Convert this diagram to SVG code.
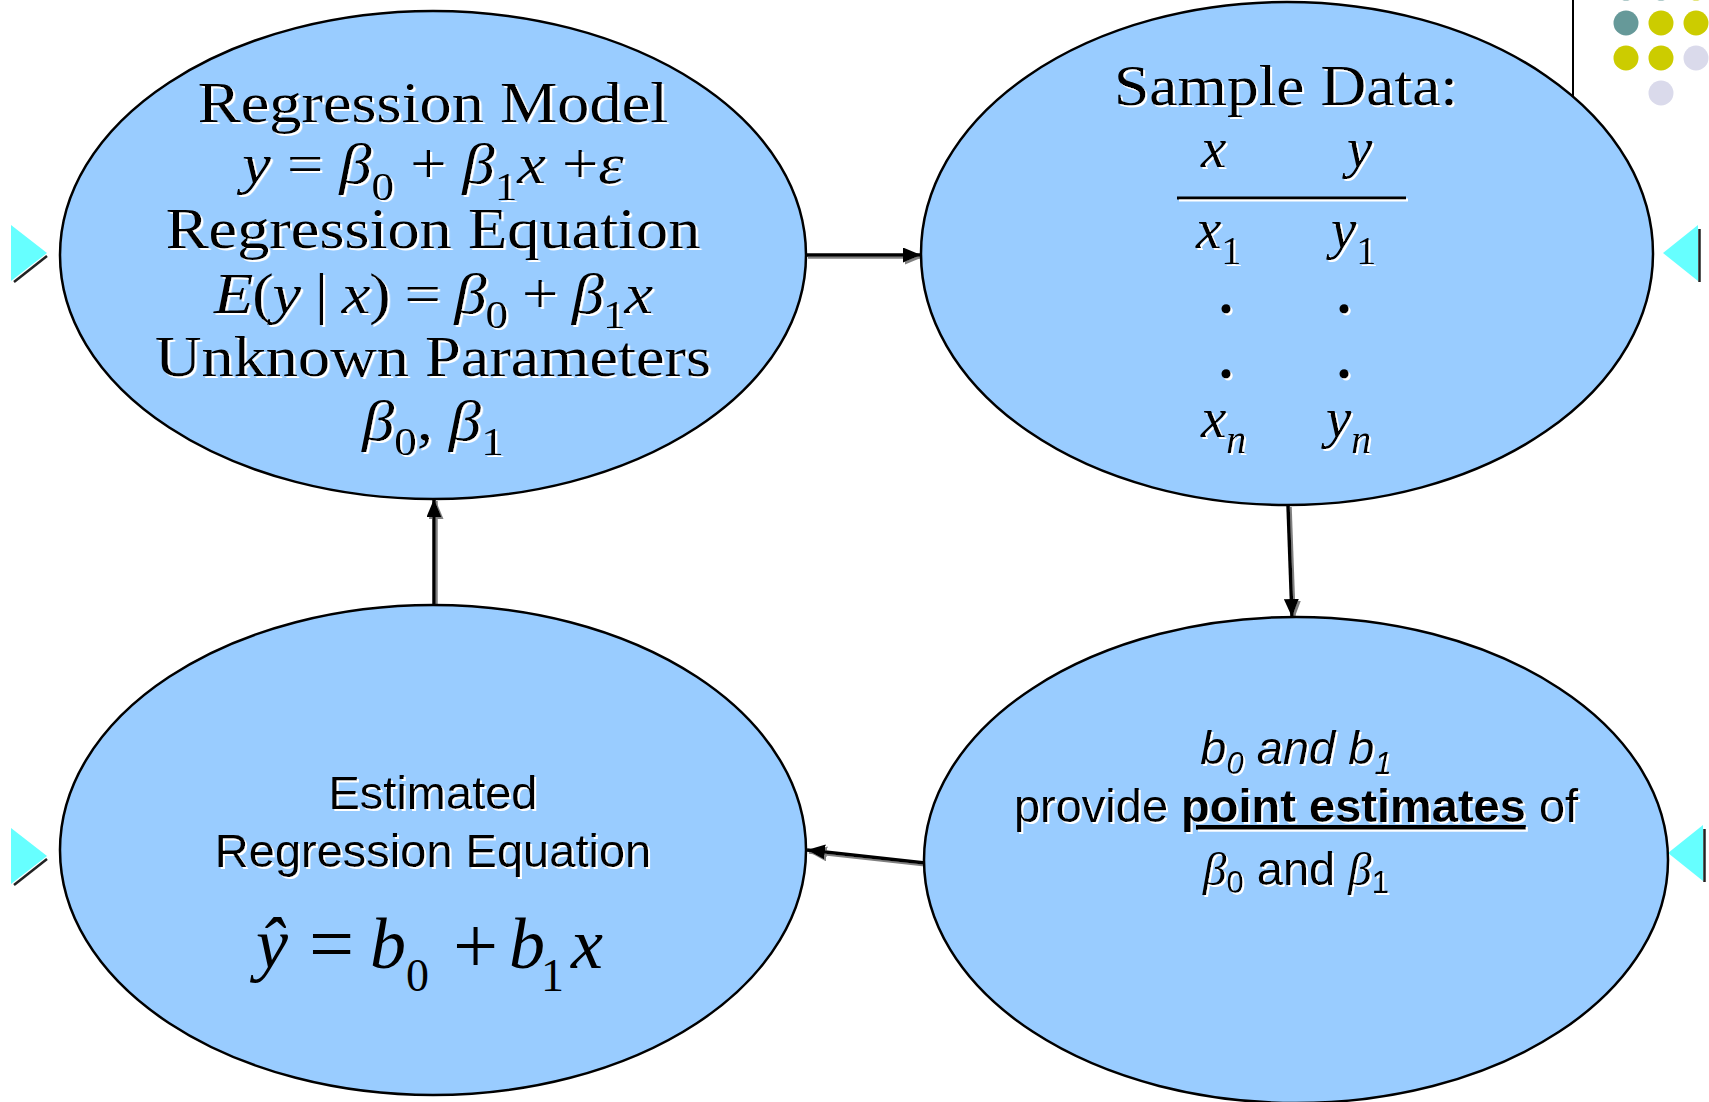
<svg xmlns="http://www.w3.org/2000/svg" width="1709" height="1102" viewBox="0 0 1709 1102">
<defs>
<style>
.node{fill:#99CCFF;stroke:#000;stroke-width:2.5}
.pal{font-family:"Liberation Serif",serif;font-size:57px;fill:#000}
.it{font-style:italic}
.sub{font-size:40px}
.ar{font-family:"Liberation Sans",Arial,sans-serif;font-size:47px;fill:#000}
.tm{font-family:"Liberation Serif",serif;fill:#000}
.conn{stroke:#000;stroke-width:3.5;fill:none;marker-end:url(#ah)}
.tri{fill:#66FFFF}
.triedge{stroke:#222;stroke-width:2.5}
</style>
<filter id="ws" x="-10%" y="-20%" width="130%" height="150%"><feDropShadow dx="2" dy="2" stdDeviation="0" flood-color="#fff" flood-opacity="1"/></filter>
<filter id="gs" x="-20%" y="-20%" width="140%" height="140%"><feDropShadow dx="2" dy="2" stdDeviation="0" flood-color="#808080" flood-opacity="1"/></filter>
<marker id="ah" markerUnits="userSpaceOnUse" markerWidth="19" markerHeight="15" refX="18" refY="7.5" orient="auto"><path d="M0,0 L18,7.5 L0,15 z" fill="#000"/></marker>
</defs>
<rect width="1709" height="1102" fill="#fff"/>

<g id="decor">
<line x1="1573" y1="0" x2="1573" y2="100" stroke="#000" stroke-width="2"/>
<circle cx="1626" cy="-12" r="12.5" fill="#669999"/>
<circle cx="1661" cy="-12" r="12.5" fill="#669999"/>
<circle cx="1696" cy="-12" r="12.5" fill="#CCCC00"/>
<circle cx="1626" cy="23" r="12.5" fill="#669999"/>
<circle cx="1661" cy="23" r="12.5" fill="#CCCC00"/>
<circle cx="1696" cy="23" r="12.5" fill="#CCCC00"/>
<circle cx="1626" cy="58" r="12.5" fill="#CCCC00"/>
<circle cx="1661" cy="58" r="12.5" fill="#CCCC00"/>
<circle cx="1696" cy="58" r="12.5" fill="#DADAEB"/>
<circle cx="1661" cy="93" r="12.5" fill="#DADAEB"/>
<polygon class="tri" points="11,225 47,253 11,281"/>
<line class="triedge" x1="14" y1="282" x2="47" y2="256"/>
<polygon class="tri" points="11,828 47,856 11,884"/>
<line class="triedge" x1="14" y1="885" x2="47" y2="859"/>
<polygon class="tri" points="1698,225 1663,253 1698,281"/>
<line class="triedge" x1="1699.5" y1="229" x2="1699.5" y2="282"/>
<polygon class="tri" points="1703,825 1668,853 1703,881"/>
<line class="triedge" x1="1704.5" y1="829" x2="1704.5" y2="882"/>
</g>

<g id="connectors" filter="url(#gs)">
<line class="conn" x1="806" y1="255" x2="921" y2="255"/>
<line class="conn" x1="1288" y1="505" x2="1292" y2="617"/>
<line class="conn" x1="925" y1="863" x2="807" y2="850"/>
<line class="conn" x1="434" y1="605" x2="434" y2="499"/>
</g>

<g id="node-model">
<ellipse class="node" cx="433" cy="255" rx="373" ry="244"/>
<g filter="url(#ws)" transform="translate(433,0) scale(1.13,1) translate(-433,0)">
<text class="pal" x="433" y="122" text-anchor="middle">Regression Model</text>
<text class="pal" x="433" y="183" text-anchor="middle"><tspan class="it">y</tspan> = <tspan class="it">β</tspan><tspan class="sub" dy="17">0</tspan><tspan dy="-17"> + </tspan><tspan class="it">β</tspan><tspan class="sub" dy="17">1</tspan><tspan class="it" dy="-17">x</tspan> +<tspan class="it">ε</tspan></text>
<text class="pal" x="433" y="248" text-anchor="middle">Regression Equation</text>
<text class="pal" x="433" y="313" text-anchor="middle" letter-spacing="-1"><tspan class="it">E</tspan>(<tspan class="it">y</tspan> | <tspan class="it">x</tspan>) = <tspan class="it">β</tspan><tspan class="sub" dy="15">0</tspan><tspan dy="-15"> + </tspan><tspan class="it">β</tspan><tspan class="sub" dy="15">1</tspan><tspan class="it" dy="-15">x</tspan></text>
<text class="pal" x="433" y="376" text-anchor="middle">Unknown Parameters</text>
<text class="pal" x="433" y="440" text-anchor="middle"><tspan class="it">β</tspan><tspan class="sub" dy="15">0</tspan><tspan dy="-15">, </tspan><tspan class="it">β</tspan><tspan class="sub" dy="15">1</tspan></text>
</g>
</g>

<g id="node-sample">
<ellipse class="node" cx="1287" cy="253.5" rx="366" ry="251.5"/>
<g filter="url(#ws)">
<text class="pal" x="1286" y="105" text-anchor="middle" textLength="344" lengthAdjust="spacingAndGlyphs">Sample Data:</text>
<text class="pal it" x="1201" y="167">x</text>
<text class="pal it" x="1347" y="167">y</text>
<line x1="1177" y1="198" x2="1406" y2="198" stroke="#000" stroke-width="3"/>
<text class="pal" x="1196" y="248"><tspan class="it">x</tspan><tspan class="sub" dy="16">1</tspan></text>
<text class="pal" x="1331" y="248"><tspan class="it">y</tspan><tspan class="sub" dy="16">1</tspan></text>
<text class="pal" x="1226" y="313" text-anchor="middle" font-weight="bold">.</text>
<text class="pal" x="1344" y="313" text-anchor="middle" font-weight="bold">.</text>
<text class="pal" x="1226" y="378" text-anchor="middle" font-weight="bold">.</text>
<text class="pal" x="1344" y="378" text-anchor="middle" font-weight="bold">.</text>
<text class="pal" x="1201" y="437"><tspan class="it">x</tspan><tspan class="sub it" dy="16">n</tspan></text>
<text class="pal" x="1326" y="437"><tspan class="it">y</tspan><tspan class="sub it" dy="16">n</tspan></text>
</g>
</g>

<g id="node-estimates">
<ellipse class="node" cx="1296" cy="860" rx="372" ry="243"/>
<g filter="url(#ws)">
<text class="ar" x="1296" y="764" text-anchor="middle" font-style="italic">b<tspan font-size="31" dy="10">0</tspan><tspan dy="-10"> and b</tspan><tspan font-size="31" dy="10">1</tspan></text>
<text class="ar" x="1296" y="822" text-anchor="middle">provide <tspan font-weight="bold" text-decoration="underline">point estimates</tspan> of</text>
<text class="ar" x="1296" y="885" text-anchor="middle"><tspan class="tm it">β</tspan><tspan font-size="31" dy="8">0</tspan><tspan dy="-8"> and </tspan><tspan class="tm it">β</tspan><tspan font-size="31" dy="8">1</tspan></text>
</g>
</g>

<g id="node-estimated">
<ellipse class="node" cx="433" cy="850" rx="373" ry="245"/>
<g filter="url(#ws)">
<text class="ar" x="433" y="809" text-anchor="middle">Estimated</text>
<text class="ar" x="433" y="867" text-anchor="middle">Regression Equation</text>
</g>
<g>
<text class="tm it" x="256" y="968" font-size="72">ŷ</text>
<text class="tm" x="309" y="971" font-size="80">=</text>
<text class="tm it" x="370" y="968" font-size="72">b</text>
<text class="tm" x="406" y="991" font-size="46">0</text>
<text class="tm" x="453" y="973" font-size="80">+</text>
<text class="tm it" x="509" y="968" font-size="72">b</text>
<text class="tm" x="541" y="991" font-size="46">1</text>
<text class="tm it" x="571" y="968" font-size="72">x</text>
</g>
</g>
</svg>
